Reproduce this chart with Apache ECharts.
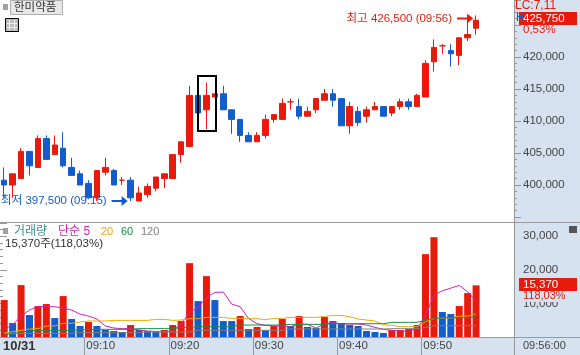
<!DOCTYPE html>
<html lang="ko">
<head>
    <meta charset="UTF-8">
    <title>한미약품</title>
    <script src="https://cdn.jsdelivr.net/npm/echarts@6/dist/echarts.min.js"></script>
    <style>
        html, body { margin: 0; padding: 0; background: #fff; overflow: hidden; }
    </style>
</head>
<body>
<div id="chartBox" style="width: 580px; height: 355px;"></div>
<script>
    // 가격 (09:00 ~ 09:56, 1분봉)
    var opens = [400750, 400000, 401000, 405250, 402750, 407250, 404750, 405750, 402750, 401750,
        400250, 398000, 402000, 402250, 400750, 400750, 397500, 398500, 399500, 401000,
        401000, 404750, 406000, 414000, 411750, 413750, 414250, 411750, 410250, 407750,
        406750, 407750, 410250, 410250, 413000, 412250, 410750, 411750, 413250, 414250,
        413500, 409250, 411500, 410750, 411750, 412250, 411250, 412250, 413000, 412250,
        413750, 419250, 421750, 421000, 420250, 423000, 424500];
    var closes = [400000, 401750, 405250, 403000, 407250, 404000, 406250, 403000, 401500, 400000,
        398000, 402250, 402750, 400000, 400750, 398000, 398750, 399750, 401250, 401750,
        404750, 406750, 414000, 411250, 414000, 414250, 411750, 410250, 407750, 406750,
        407750, 410250, 411000, 412750, 413000, 410750, 411500, 413500, 414250, 413250,
        409250, 412250, 409750, 411750, 412250, 410750, 412250, 413000, 412250, 414000,
        419000, 421500, 421750, 420500, 423000, 423500, 425750];
    var lows = [398000, 398000, 401000, 401500, 402750, 404000, 404750, 402750, 401500, 400000,
        398000, 397500, 401500, 400000, 400000, 397500, 397500, 398000, 399000, 399500,
        401000, 403500, 406000, 411250, 408750, 413750, 411750, 408000, 406750, 406750,
        406750, 407250, 409750, 410250, 411750, 410250, 410750, 411250, 413250, 412250,
        409250, 408000, 409250, 409750, 411750, 410750, 410750, 411750, 411750, 412250,
        413750, 417750, 420500, 418500, 418750, 422500, 423500];
    var highs = [402750, 401750, 405750, 405250, 407750, 407750, 407750, 408250, 404250, 402250,
        400750, 402250, 404250, 402500, 401250, 401250, 399750, 400250, 401250, 401750,
        404750, 406750, 415500, 414000, 416000, 414250, 415500, 411750, 410250, 408250,
        408250, 411000, 411000, 413500, 413500, 413500, 412250, 413500, 415000, 415000,
        413500, 413000, 412250, 412250, 413000, 412250, 412250, 413500, 413500, 414250,
        419500, 422750, 422000, 422000, 423000, 425750, 426500];

    // 거래량
    var volumes = [11000, 4150, 15450, 6530, 9200, 9800, 5640, 12180, 5350, 3270,
        4450, 3270, 2080, 1780, 1490, 3560, 2080, 1780, 1490, 2080,
        3560, 4750, 21980, 10690, 18120, 10990, 4750, 4750, 6240, 2380,
        2970, 2080, 3270, 5350, 3270, 6240, 2970, 2670, 5940, 4750,
        4160, 3560, 3270, 1780, 1490, 1190, 2080, 2080, 2380, 3560,
        24650, 29700, 7430, 6830, 9210, 13070, 15370];
    // 1 = 빨강, 0 = 파랑
    var volumeUp = [1, 0, 1, 0, 1, 1, 0, 1, 0, 0,
        1, 0, 0, 0, 0, 1, 0, 0, 0, 1,
        1, 1, 1, 0, 1, 0, 0, 0, 1, 0,
        1, 0, 1, 1, 0, 1, 0, 0, 1, 0,
        0, 0, 0, 0, 0, 0, 1, 1, 1, 1,
        1, 1, 0, 0, 1, 1, 1];

    // 거래량 이동평균
    var ma5 = [2380, 3560, 6240, 8020, 9110, 9010, 9010, 8610, 8020, 6830,
        6240, 5350, 3270, 2670, 2480, 2480, 2080, 1780, 1680, 1580,
        1780, 3860, 7330, 8810, 11780, 13270, 13370, 9800, 9010, 5540,
        3960, 3470, 3270, 3270, 3070, 3860, 3760, 2670, 3860, 4360,
        3860, 3860, 3860, 3560, 2870, 2280, 1980, 1780, 1680, 2570,
        6240, 12470, 13760, 14550, 15350, 13460, 10690];
    var ma20 = [1190, 1580, 1980, 2380, 2480, 3270, 3270, 4060, 4060, 4460,
        4750, 4750, 4750, 4950, 4950, 4950, 4950, 4950, 5250, 5250,
        4950, 5050, 5450, 5450, 5840, 5840, 5840, 5540, 5540, 5450,
        5450, 5150, 5540, 5540, 5840, 5840, 5840, 5840, 6140, 6440,
        6440, 6040, 5350, 5050, 4750, 3660, 3470, 3070, 3070, 3070,
        4550, 5450, 5640, 5640, 6240, 6240, 6930];
    var ma60 = [890, 890, 1490, 1780, 1980, 1980, 1980, 1980, 1980, 2180,
        2180, 2280, 2280, 2280, 2280, 2280, 2480, 2480, 2480, 2480,
        2480, 2870, 2870, 3070, 3070, 3070, 3070, 3070, 3560, 3560,
        3560, 3560, 3560, 3560, 3760, 3760, 3760, 3760, 3760, 3960,
        3960, 3960, 3960, 3960, 3960, 3960, 4360, 4360, 4360, 4360,
        5050, 5450, 5740, 5740, 5740, 5740, 6040];
    var ma120 = [1090, 1090, 1090, 1090, 1090, 1090, 1090, 1090, 1090, 1290,
        1290, 1290, 1290, 1290, 1290, 1290, 1290, 1490, 1490, 1490,
        1490, 1490, 1490, 1980, 1980, 1980, 1980, 1980, 1980, 1980,
        1980, 1980, 1980, 1980, 2380, 2380, 2380, 2380, 2380, 2380,
        2380, 2380, 2380, 2380, 2380, 2380, 2480, 2480, 2480, 2480,
        2870, 3370, 3370, 3370, 3370, 3370, 3370];

    var tickMinutes = [10, 20, 30, 40, 50];
    var labelMinutes = [0, 10, 20, 30, 40, 50];
    var tickLabels = {0: '10/31', 10: '09:10', 20: '09:20', 30: '09:30', 40: '09:40', 50: '09:50'};

    var RED = '#e81a0b', BLUE = '#125ccb', PANEL = '#d6e2f0', LINE = '#999999', TEXT = '#444444';
    var FONT = '"Liberation Sans", "Noto Sans CJK KR", sans-serif';

    // 뒤쪽 61칸 중 57칸만 데이터
    var categories = [];
    for (var i = 0; i < 61; i++) {
        categories.push(i < 57 ? '09:' + (i < 10 ? '0' : '') + i : '');
    }

    var candleData = opens.map(function (o, i) {
        return [o, closes[i], lows[i], highs[i]];
    });
    var volumeData = volumes.map(function (v, i) {
        return {value: v, itemStyle: {color: volumeUp[i] ? RED : BLUE}};
    });

    var ARROW = 'path://M0 4 H10 V0 L16 5 L10 10 V6 H0 Z';

    function maSeries(name, data, color) {
        return {
            name: name, type: 'line', xAxisIndex: 1, yAxisIndex: 1, data: data,
            symbol: 'none', silent: true,
            lineStyle: {color: color, width: 1}
        };
    }

    function txt(x, y, text, fill, size) {
        return {
            type: 'text', x: x, y: y, z: 100,
            style: {text: text, fill: fill, font: (size || 11.5) + 'px ' + FONT, verticalAlign: 'middle'}
        };
    }
    function box(x, y, w, h, fill, z) {
        return {type: 'rect', z: z, shape: {x: x, y: y, width: w, height: h}, style: {fill: fill}};
    }
    function markLabel(text, color) {
        return {show: true, position: 'left', distance: 5, formatter: text, color: color, fontSize: 11.5, fontFamily: FONT};
    }

    var chrome = [
        // 패널 배경
        box(514, 0, 66, 355, PANEL, -10),
        box(0, 337, 580, 18, PANEL, -10),
        // 구분선
        box(0, 222, 580, 1, LINE, 50),
        box(0, 337, 580, 1, LINE, 50),
        box(514, 0, 1, 355, LINE, 50),
        // 종목명 버튼
        box(3, 4, 5, 6, '#a0a0a0', 60),
        {type: 'rect', z: 60, shape: {x: 10.5, y: 0.5, width: 52, height: 14}, style: {fill: '#e8e8e8', stroke: '#b0b0b0'}},
        txt(14, 7.5, '한미약품', '#333333', 11.5),
        {type: 'rect', z: 60, shape: {x: 5.5, y: 18.5, width: 13, height: 13}, style: {fill: '#bdbdbd', stroke: '#000000'}},
        box(9, 20, 1, 10, '#f0f0f0', 61),
        box(14, 20, 1, 10, '#f0f0f0', 61),
        box(7, 23, 10, 1, '#f0f0f0', 61),
        box(7, 27, 10, 1, '#f0f0f0', 61),
        // 강조 박스
        {type: 'rect', z: 60, shape: {x: 198, y: 76, width: 18, height: 55}, style: {fill: 'none', stroke: '#000000', lineWidth: 2}},
        // 오른쪽 현재가
        txt(515, 5.5, 'LC:7,11', RED, 12),
        txt(516, 18, 'H', BLUE, 12),
        box(519, 12, 58, 13, RED, 90),
        txt(523, 18.5, '425,750', '#ffffff', 11.5),
        txt(523, 30, '0,53%', RED, 11.5),
        // 거래량 범례
        box(3, 228, 5, 6, '#a0a0a0', 60),
        txt(14, 232, '거래량', '#3a8f8f', 12),
        txt(58, 232, '단순 5', '#d61fb4', 12),
        txt(101, 232, '20', '#f0a800', 11),
        txt(121, 232, '60', '#109040', 11),
        txt(141, 232, '120', '#808080', 11),
        txt(5, 244, '15,370주(118,03%)', '#333333', 11.5),
        // 오른쪽 거래량
        box(569, 226, 8, 7, '#555555', 60),
        box(519, 278, 58, 13, RED, 90),
        box(519, 291, 58, 11, PANEL, 85),
        txt(523, 284.5, '15,370', '#ffffff', 11.5),
        txt(523, 296, '118,03%', RED, 11),
        txt(523, 346, '09:56:00', TEXT, 11)
    ];
    // 시간 구분선 (61칸 기준 칸 경계)
    tickMinutes.forEach(function (m) {
        chrome.push(box(Math.round(514 / 61 * m), 337, 1, 18, LINE, 50));
    });

    var chart = echarts.init(document.getElementById('chartBox'));
    chart.setOption({
        animation: false,
        backgroundColor: '#ffffff',
        graphic: chrome,
        grid: [
            {left: 0, top: 0, width: 514, height: 217},
            {left: 0, top: 223, width: 514, height: 114}
        ],
        xAxis: [
            {type: 'category', gridIndex: 0, data: categories, show: false},
            {type: 'category', gridIndex: 1, data: categories, show: false},
            // 시간 라벨은 칸 경계에 맞춰서 값 축으로 따로
            {
                type: 'value', gridIndex: 1, position: 'bottom',
                min: 0, max: 61,
                axisLine: {show: false},
                splitLine: {show: false},
                axisTick: {show: false},
                axisLabel: {
                    margin: 3,
                    align: 'left',
                    padding: [0, 0, 0, 2],
                    color: TEXT,
                    fontSize: 11.5,
                    fontFamily: FONT,
                    customValues: labelMinutes,
                    showMinLabel: true,
                    formatter: function (v) {
                        return v === 0 ? '{d|' + tickLabels[0] + '}' : tickLabels[v];
                    },
                    rich: {d: {fontWeight: 'bold', color: '#333333', fontSize: 13, fontFamily: FONT, padding: [0, 0, 0, 1]}}
                }
            }
        ],
        yAxis: [
            {
                type: 'value', gridIndex: 0, position: 'right',
                min: 395000, max: 428906, interval: 5000,
                splitLine: {show: false},
                axisLine: {show: false},
                axisTick: {show: true, length: 7, lineStyle: {color: LINE}},
                minorTick: {show: true, splitNumber: 5, length: 3, lineStyle: {color: LINE}},
                axisLabel: {
                    margin: 9, color: TEXT, fontSize: 11.5, fontFamily: FONT, align: 'left',
                    showMinLabel: false, showMaxLabel: false,
                    formatter: function (v) {
                        return v === 425000 || v === 395000 ? '' : v.toLocaleString('en-US');
                    }
                }
            },
            {
                type: 'value', gridIndex: 1, position: 'right',
                min: 0, max: 33930, interval: 10000,
                splitLine: {show: false},
                axisLine: {show: false},
                axisTick: {show: true, length: 7, lineStyle: {color: LINE}},
                minorTick: {show: true, splitNumber: 5, length: 3, lineStyle: {color: LINE}},
                axisLabel: {
                    margin: 9, color: TEXT, fontSize: 11.5, fontFamily: FONT, align: 'left',
                    showMaxLabel: false,
                    formatter: function (v) {
                        return v === 0 ? '' : v.toLocaleString('en-US');
                    }
                }
            }
        ],
        series: [
            {
                name: '가격', type: 'candlestick', xAxisIndex: 0, yAxisIndex: 0,
                data: candleData, barWidth: 6,
                itemStyle: {
                    color: RED, color0: BLUE,
                    borderColor: RED, borderColor0: BLUE, borderColorDoji: RED, borderWidth: 1
                },
                markPoint: {
                    silent: true,
                    animation: false,
                    data: [
                        {
                            coord: [56, 426500], symbol: ARROW, symbolSize: [16, 10], symbolOffset: [-11, 3],
                            itemStyle: {color: RED},
                            label: markLabel('최고 426,500 (09:56)', RED)
                        },
                        {
                            coord: [15, 397500], symbol: ARROW, symbolSize: [16, 10], symbolOffset: [-11, 0],
                            itemStyle: {color: BLUE},
                            label: markLabel('최저 397,500 (09:15)', BLUE)
                        }
                    ]
                }
            },
            {
                name: '거래량', type: 'bar', xAxisIndex: 1, yAxisIndex: 1,
                data: volumeData, barWidth: 7, silent: true
            },
            maSeries('단순 5', ma5, '#d61fb4'),
            maSeries('20', ma20, '#f0a800'),
            maSeries('60', ma60, '#109040'),
            maSeries('120', ma120, '#808080')
        ]
    });
</script>
</body>
</html>
